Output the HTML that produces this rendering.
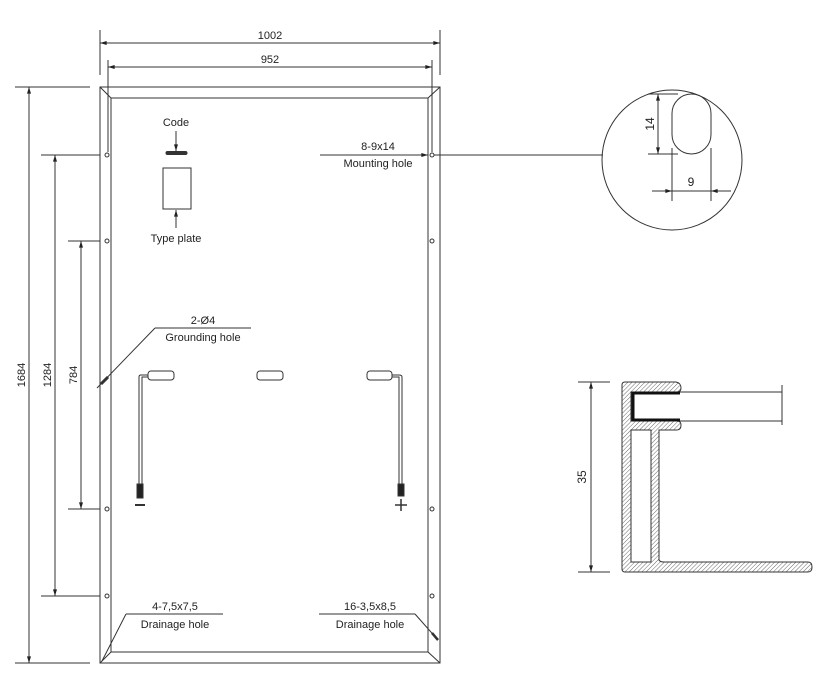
<!DOCTYPE html>
<html><head><meta charset="utf-8"><style>
html,body{margin:0;padding:0;background:#fff;}
svg{display:block;}
text{font-family:"Liberation Sans",Arial,sans-serif;font-size:11px;fill:#222;}
</style></head><body>
<svg width="822" height="690" viewBox="0 0 822 690" xmlns="http://www.w3.org/2000/svg">
<defs>
<marker id="a" viewBox="0 0 10 6" refX="10" refY="3" markerWidth="8" markerHeight="4" orient="auto-start-reverse" markerUnits="userSpaceOnUse"><path d="M0,0 L10,3 L0,6 z" fill="#222"/></marker>
<pattern id="h" width="3" height="3" patternUnits="userSpaceOnUse" patternTransform="rotate(45)"><line x1="0" y1="0" x2="0" y2="3" stroke="#444" stroke-width="0.8"/></pattern>
</defs>
<g stroke="#333" stroke-width="1" fill="none">
<rect x="100" y="87" width="340" height="576"/>
<rect x="111" y="98" width="317" height="554"/>
<line x1="100" y1="87" x2="111" y2="98"/><line x1="440" y1="87" x2="428" y2="98"/>
<line x1="100" y1="663" x2="111" y2="652"/><line x1="440" y1="663" x2="428" y2="652"/>
<line x1="100" y1="30" x2="100" y2="75"/><line x1="440" y1="30" x2="440" y2="75"/>
<line x1="100" y1="43" x2="440" y2="43" marker-start="url(#a)" marker-end="url(#a)"/>
<line x1="108" y1="60" x2="108" y2="152"/><line x1="432" y1="60" x2="432" y2="152"/>
<line x1="108" y1="67" x2="432" y2="67" marker-start="url(#a)" marker-end="url(#a)"/>
<line x1="15" y1="87" x2="90" y2="87"/><line x1="15" y1="663" x2="90" y2="663"/>
<line x1="29" y1="87" x2="29" y2="663" marker-start="url(#a)" marker-end="url(#a)"/>
<line x1="41" y1="155" x2="100" y2="155"/><line x1="41" y1="596" x2="100" y2="596"/>
<line x1="55" y1="155" x2="55" y2="596" marker-start="url(#a)" marker-end="url(#a)"/>
<line x1="68" y1="241" x2="100" y2="241"/><line x1="68" y1="509" x2="100" y2="509"/>
<line x1="81" y1="241" x2="81" y2="509" marker-start="url(#a)" marker-end="url(#a)"/>
<circle cx="107" cy="155" r="2"/><circle cx="107" cy="241" r="2"/><circle cx="107" cy="509" r="2"/><circle cx="107" cy="596" r="2"/>
<circle cx="432" cy="155" r="2"/><circle cx="432" cy="241" r="2"/><circle cx="432" cy="509" r="2"/><circle cx="432" cy="596" r="2"/>
<line x1="176" y1="131" x2="176" y2="151" marker-end="url(#a)"/>
<rect x="166" y="151.5" width="21" height="3" rx="1.5" fill="#333"/>
<rect x="163" y="168" width="28" height="41"/>
<line x1="176" y1="228" x2="176" y2="210" marker-end="url(#a)"/>
<line x1="320" y1="155" x2="428" y2="155" marker-end="url(#a)"/>
<line x1="434" y1="155" x2="603" y2="155"/>
<circle cx="672" cy="160" r="70"/>
<rect x="672" y="94" width="39" height="60" rx="19.5"/>
<line x1="648" y1="94" x2="678" y2="94"/><line x1="648" y1="154" x2="678" y2="154"/>
<line x1="658" y1="94" x2="658" y2="154" marker-start="url(#a)" marker-end="url(#a)"/>
<line x1="672" y1="148" x2="672" y2="201"/><line x1="711" y1="148" x2="711" y2="201"/>
<line x1="652" y1="191" x2="672" y2="191" marker-end="url(#a)"/>
<line x1="731" y1="191" x2="711" y2="191" marker-end="url(#a)"/>
<line x1="672" y1="191" x2="711" y2="191"/>
<line x1="155" y1="328" x2="251" y2="328"/>
<line x1="155" y1="328" x2="97" y2="388"/>
<line x1="108" y1="377" x2="101" y2="384" stroke-width="3"/>
<rect x="148" y="371" width="26" height="9" rx="3"/>
<rect x="257" y="371" width="26" height="9" rx="3"/>
<rect x="367" y="371" width="25" height="9" rx="3"/>
<path d="M148,375 H141 Q139,375 139,377 V484"/><path d="M148,377 H142 V484"/>
<path d="M392,375 H399 Q402,375 402,377 V484"/><path d="M392,377 H399 V484"/>
<rect x="137" y="484" width="6" height="14" fill="#222"/>
<rect x="398" y="484" width="6" height="12" fill="#222"/>
<line x1="135" y1="505" x2="145" y2="505" stroke-width="2"/>
<line x1="395" y1="505" x2="407" y2="505" stroke-width="1.5"/><line x1="401" y1="499" x2="401" y2="511" stroke-width="1.5"/>
<line x1="126" y1="614" x2="223" y2="614"/><line x1="126" y1="614" x2="102" y2="661"/>
<line x1="319" y1="614" x2="415" y2="614"/><line x1="415" y1="614" x2="438" y2="640"/>
<line x1="432" y1="633" x2="438" y2="640" stroke-width="2.5"/>
<line x1="578" y1="382" x2="610" y2="382"/><line x1="578" y1="572" x2="610" y2="572"/>
<line x1="591" y1="382" x2="591" y2="572" marker-start="url(#a)" marker-end="url(#a)"/>
<line x1="680" y1="392" x2="782" y2="392"/><line x1="680" y1="421" x2="782" y2="421"/>
<line x1="782" y1="385" x2="782" y2="425"/>
</g>
<path d="M622,385 Q622,382 625,382 H676 Q681,383 681,388 Q681,392 677,392 H631 V421 H677 Q681,421 681,425 Q681,430 677,430 H659 V560 Q660,562 664,562 H808 Q812,562 812,567 Q812,572 808,572 H625 Q622,572 622,569 Z" fill="url(#h)" stroke="#333" stroke-width="1"/>
<rect x="631" y="430" width="20" height="132" fill="#fff" stroke="#333" stroke-width="1"/>
<path d="M680,393 H633 V420 H680" fill="none" stroke="#111" stroke-width="3"/>
<g>
<text x="270" y="39" text-anchor="middle">1002</text>
<text x="270" y="63" text-anchor="middle">952</text>
<text x="176" y="126" text-anchor="middle">Code</text>
<text x="176" y="242" text-anchor="middle">Type plate</text>
<text x="378" y="150" text-anchor="middle">8-9x14</text>
<text x="378" y="167" text-anchor="middle">Mounting hole</text>
<text x="203" y="324" text-anchor="middle">2-Ø4</text>
<text x="203" y="341" text-anchor="middle">Grounding hole</text>
<text x="175" y="610" text-anchor="middle">4-7,5x7,5</text>
<text x="175" y="628" text-anchor="middle">Drainage hole</text>
<text x="370" y="610" text-anchor="middle">16-3,5x8,5</text>
<text x="370" y="628" text-anchor="middle">Drainage hole</text>
<text x="691" y="186" text-anchor="middle" style="font-size:12px">9</text>
<text transform="translate(654,124) rotate(-90)" text-anchor="middle" style="font-size:12px">14</text>
<text transform="translate(25,375) rotate(-90)" text-anchor="middle">1684</text>
<text transform="translate(51,375) rotate(-90)" text-anchor="middle">1284</text>
<text transform="translate(77,375) rotate(-90)" text-anchor="middle">784</text>
<text transform="translate(586,477) rotate(-90)" text-anchor="middle" style="font-size:12px">35</text>
</g>
</svg>
</body></html>
